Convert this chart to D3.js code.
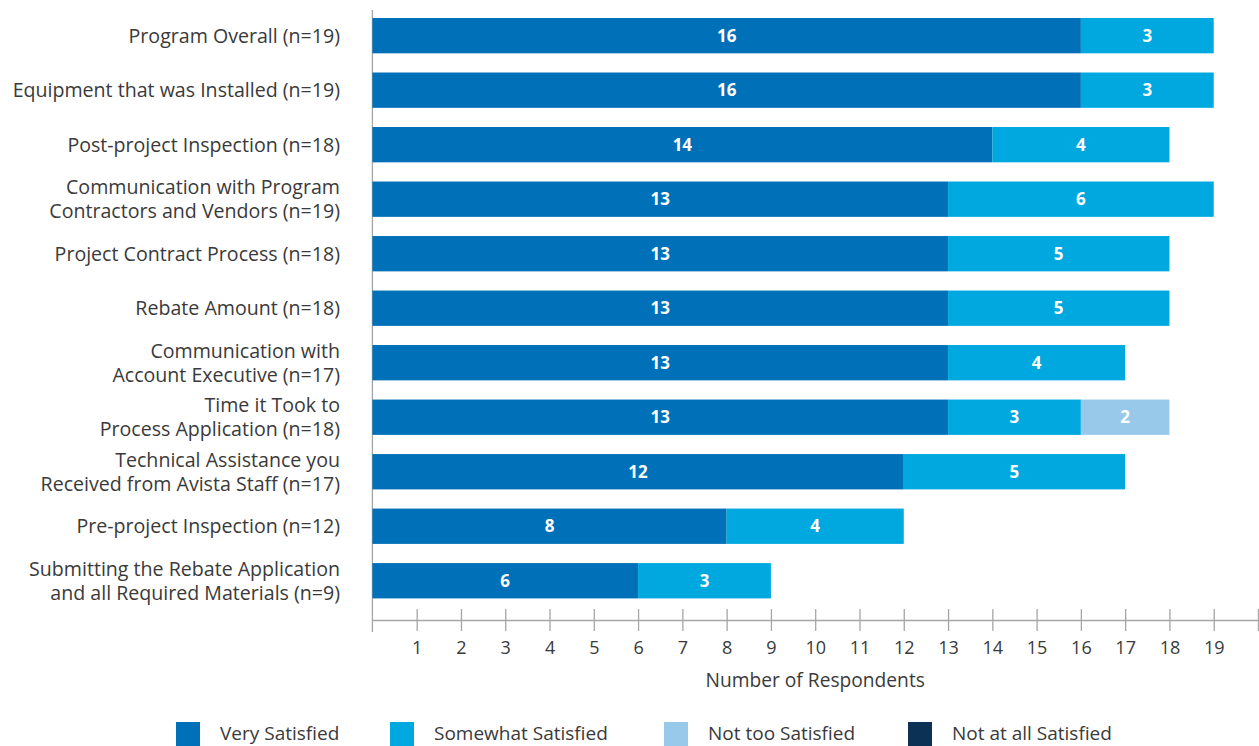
<!DOCTYPE html>
<html>
<head>
<meta charset="utf-8">
<script src="https://cdn.jsdelivr.net/npm/d3@7"></script>
<style>
  body { margin: 0; background: #fff; }
  svg { display: block; font-family: "Open Sans", "Noto Sans", sans-serif; }
</style>
</head>
<body>
<svg id="chart" width="1259" height="746"></svg>
<script>
// Satisfaction items (label lines) and respondent counts per rating
const categories = [
  ["Program Overall (n=19)"],
  ["Equipment that was Installed (n=19)"],
  ["Post-project Inspection (n=18)"],
  ["Communication with Program", "Contractors and Vendors (n=19)"],
  ["Project Contract Process (n=18)"],
  ["Rebate Amount (n=18)"],
  ["Communication with", "Account Executive (n=17)"],
  ["Time it Took to", "Process Application (n=18)"],
  ["Technical Assistance you", "Received from Avista Staff (n=17)"],
  ["Pre-project Inspection (n=12)"],
  ["Submitting the Rebate Application", "and all Required Materials (n=9)"]
];
const verySatisfied     = [16, 16, 14, 13, 13, 13, 13, 13, 12, 8, 6];
const somewhatSatisfied = [3, 3, 4, 6, 5, 5, 4, 3, 5, 4, 3];
const notTooSatisfied   = [0, 0, 0, 0, 0, 0, 0, 2, 0, 0, 0];
const notAtAllSatisfied = [0, 0, 0, 0, 0, 0, 0, 0, 0, 0, 0];
const seriesNames = ["Very Satisfied", "Somewhat Satisfied", "Not too Satisfied", "Not at all Satisfied"];
const seriesColors = ["#0070b8", "#00a8e0", "#99c9ea", "#0b3154"];
const xTicks = [1,2,3,4,5,6,7,8,9,10,11,12,13,14,15,16,17,18,19,20];
const xTickLabels = ["1","2","3","4","5","6","7","8","9","10","11","12","13","14","15","16","17","18","19",""];

const seriesValues = [verySatisfied, somewhatSatisfied, notTooSatisfied, notAtAllSatisfied];
const rows = categories.map((c, i) => {
  const r = { idx: i };
  seriesNames.forEach((s, k) => { r[s] = seriesValues[k][i]; });
  return r;
});

const svg = d3.select("#chart");
const textColor = "#3a3a3a";
const axisColor = "#a6a6a6";

const x = d3.scaleLinear().domain([0, 20]).range([372.4, 1258]);
const y = d3.scaleBand()
  .domain(d3.range(categories.length))
  .range([8.4, 608])
  .paddingInner(0.352)
  .paddingOuter(0.176);

const stacked = d3.stack().keys(seriesNames)(rows);

// Vertical baseline
svg.append("line")
  .attr("x1", x(0)).attr("x2", x(0))
  .attr("y1", 10).attr("y2", 632)
  .attr("stroke", axisColor).attr("stroke-width", 1.3);

// Bars
const layer = svg.append("g").selectAll("g")
  .data(stacked).join("g")
  .attr("fill", (d, i) => seriesColors[i]);

layer.selectAll("rect")
  .data(d => d.filter(p => p[1] - p[0] > 0))
  .join("rect")
  .attr("x", d => x(d[0]))
  .attr("width", d => x(d[1]) - x(d[0]))
  .attr("y", d => y(d.data.idx))
  .attr("height", y.bandwidth());

// Segment value labels
layer.selectAll("text")
  .data(d => d.filter(p => p[1] - p[0] > 0))
  .join("text")
  .attr("x", d => (x(d[0]) + x(d[1])) / 2)
  .attr("y", d => y(d.data.idx) + y.bandwidth() / 2)
  .attr("dy", "0.36em")
  .attr("text-anchor", "middle")
  .attr("fill", "#fff")
  .attr("font-weight", "bold")
  .attr("font-size", 17)
  .text(d => d[1] - d[0]);

// Category labels (one text per line)
const catG = svg.append("g");
categories.forEach((lines, i) => {
  const cy = y(i) + y.bandwidth() / 2;
  lines.forEach((ln, j) => {
    catG.append("text")
      .attr("text-anchor", "end")
      .attr("fill", textColor)
      .attr("font-size", 19.6)
      .attr("x", 340)
      .attr("y", cy + (j - (lines.length - 1) / 2) * 24)
      .attr("dy", "0.36em")
      .text(ln);
  });
});

// X axis
const xAxis = d3.axisBottom(x)
  .tickValues(xTicks)
  .tickSize(0)
  .tickFormat((d, i) => xTickLabels[i]);
const axG = svg.append("g").attr("transform", "translate(0,620)").call(xAxis);
axG.select(".domain").attr("stroke", axisColor).attr("stroke-width", 1.3);
axG.selectAll(".tick text")
  .attr("fill", textColor)
  .attr("font-size", 18)
  .attr("font-family", "\"Open Sans\", \"Noto Sans\", sans-serif")
  .attr("dy", "0")
  .attr("y", 34);
// Tick marks crossing the axis line
axG.selectAll(".tick").append("line")
  .attr("y1", -11).attr("y2", 11)
  .attr("stroke", axisColor).attr("stroke-width", 1.3);

svg.append("text")
  .attr("x", (x(0) + x(20)) / 2)
  .attr("y", 687)
  .attr("text-anchor", "middle")
  .attr("fill", textColor)
  .attr("font-size", 19.2)
  .text("Number of Respondents");

// Legend
const legendX = [176, 390, 664, 908];
const legend = svg.append("g");
seriesNames.forEach((s, i) => {
  legend.append("rect")
    .attr("x", legendX[i]).attr("y", 722)
    .attr("width", 24).attr("height", 26)
    .attr("fill", seriesColors[i]);
  legend.append("text")
    .attr("x", legendX[i] + 44).attr("y", 740)
    .attr("fill", textColor)
    .attr("font-size", 19)
    .text(s);
});
</script>
</body>
</html>
